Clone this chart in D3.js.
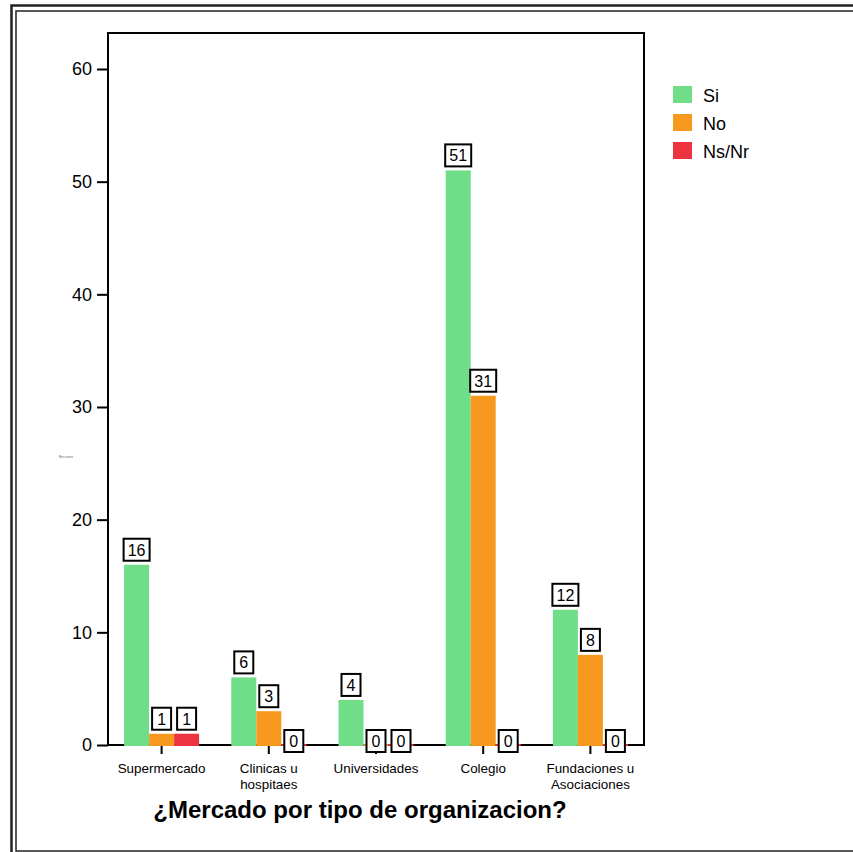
<!DOCTYPE html>
<html>
<head>
<meta charset="utf-8">
<script src="https://cdn.jsdelivr.net/npm/d3@7"></script>
<style>
  html, body { margin: 0; padding: 0; background: #fff; }
  svg { display: block; font-family: Arial, "Liberation Sans", sans-serif; }
</style>
</head>
<body>
<svg id="chart" width="853" height="852"></svg>
<script>
// Categories and counts per answer
const categories = ["Supermercado", "Clinicas u hospitaes", "Universidades", "Colegio", "Fundaciones u Asociaciones"];
const categoryLines = [["Supermercado"], ["Clinicas u", "hospitaes"], ["Universidades"], ["Colegio"], ["Fundaciones u", "Asociaciones"]];
const seriesNames = ["Si", "No", "Ns/Nr"];
const siValues = [16, 6, 4, 51, 12];
const noValues = [1, 3, 0, 31, 8];
const nsnrValues = [1, 0, 0, 0, 0];
const yTicks = [0, 10, 20, 30, 40, 50, 60];
const colors = ["#70dd88", "#f8991f", "#ee3340"];

const series = [siValues, noValues, nsnrValues];

const svg = d3.select("#chart");

// Double frame around the whole figure
svg.append("rect").attr("x", 11.5).attr("y", 5.5).attr("width", 900).attr("height", 900)
  .attr("fill", "none").attr("stroke", "#222").attr("stroke-width", 2.5);
svg.append("rect").attr("x", 16).attr("y", 11).attr("width", 900).attr("height", 840)
  .attr("fill", "none").attr("stroke", "#222").attr("stroke-width", 1.5);

const plot = { left: 108, right: 644, top: 33, bottom: 745 };

const x = d3.scaleBand().domain(categories).range([plot.left, plot.right]).padding(0);
const y = d3.scaleLinear().domain([0, 60]).range([plot.bottom, 69]);

const barW = 25;
const inner = d3.scaleBand().domain(seriesNames).range([-barW * 1.5, barW * 1.5]).padding(0);

// Plot box
svg.append("rect")
  .attr("x", plot.left).attr("y", plot.top)
  .attr("width", plot.right - plot.left).attr("height", plot.bottom - plot.top)
  .attr("fill", "none").attr("stroke", "#000").attr("stroke-width", 2);

// Y axis
const yAxis = d3.axisLeft(y).tickValues(yTicks).tickSize(11).tickPadding(5).tickFormat(d3.format("d"));
const gy = svg.append("g").attr("transform", `translate(${plot.left},0)`).call(yAxis);
gy.select(".domain").remove();
gy.selectAll(".tick line").attr("stroke", "#000").attr("stroke-width", 2);
gy.selectAll(".tick text").attr("font-size", 18).attr("fill", "#000")
  .attr("font-family", "Arial, 'Liberation Sans', sans-serif");

// X axis
const xAxis = d3.axisBottom(x).tickSize(9).tickFormat("");
const gx = svg.append("g").attr("transform", `translate(0,${plot.bottom})`).call(xAxis);
gx.select(".domain").remove();
gx.selectAll(".tick line").attr("stroke", "#000").attr("stroke-width", 2);

// Category labels (possibly two lines)
categories.forEach((c, i) => {
  const cx = x(c) + x.bandwidth() / 2;
  const t = svg.append("text")
    .attr("x", cx).attr("y", 773)
    .attr("text-anchor", "middle").attr("font-size", 13.4).attr("fill", "#000");
  categoryLines[i].forEach((line, j) => {
    t.append("tspan").attr("x", cx).attr("dy", j === 0 ? 0 : 15.5).text(line);
  });
});

// Bars
const bars = [];
categories.forEach((c, i) => {
  const cx = x(c) + x.bandwidth() / 2;
  seriesNames.forEach((s, k) => {
    bars.push({ cat: c, s, k, v: series[k][i], x0: cx + inner(s) });
  });
});

svg.append("g").selectAll("rect").data(bars).join("rect")
  .attr("x", d => d.x0)
  .attr("width", inner.bandwidth())
  .attr("y", d => d.v > 0 ? y(d.v) : y(0) - 1)
  .attr("height", d => d.v > 0 ? y(0) - y(d.v) + 1 : 2)
  .attr("fill", d => colors[d.k]);

// Value labels in boxes
const boxW = d => String(d.v).length > 1 ? 26 : 19;
const lbl = svg.append("g").selectAll("g").data(bars).join("g")
  .attr("transform", d => {
    const cx = d.x0 + inner.bandwidth() / 2;
    const bottom = d.v > 0 ? y(d.v) - 4 : y(0) + 7;
    return `translate(${cx},${bottom})`;
  });
lbl.append("rect")
  .attr("x", d => -boxW(d) / 2)
  .attr("y", -22)
  .attr("width", boxW)
  .attr("height", 22)
  .attr("fill", "#fff").attr("stroke", "#000").attr("stroke-width", 2);
lbl.append("text")
  .attr("x", 0).attr("y", -5)
  .attr("text-anchor", "middle").attr("font-size", 16).attr("fill", "#000")
  .text(d => d.v);

// Tiny axis caption
svg.append("text").attr("x", 59).attr("y", 458)
  .attr("font-size", 3).attr("fill", "#666")
  .attr("textLength", 14).attr("lengthAdjust", "spacingAndGlyphs")
  .text("Recuento");

// Legend
const legend = svg.append("g").attr("transform", "translate(673,86)");
seriesNames.forEach((s, k) => {
  const g = legend.append("g").attr("transform", `translate(0,${k * 28})`);
  g.append("rect").attr("width", 19).attr("height", 17).attr("fill", colors[k]);
  g.append("text").attr("x", 30).attr("y", 16).attr("font-size", 18).attr("fill", "#000").text(s);
});

// Title
svg.append("text").attr("x", 360).attr("y", 818).attr("text-anchor", "middle")
  .attr("font-size", 24).attr("font-weight", "bold").attr("fill", "#000")
  .text("¿Mercado por tipo de organizacion?");
</script>
</body>
</html>
